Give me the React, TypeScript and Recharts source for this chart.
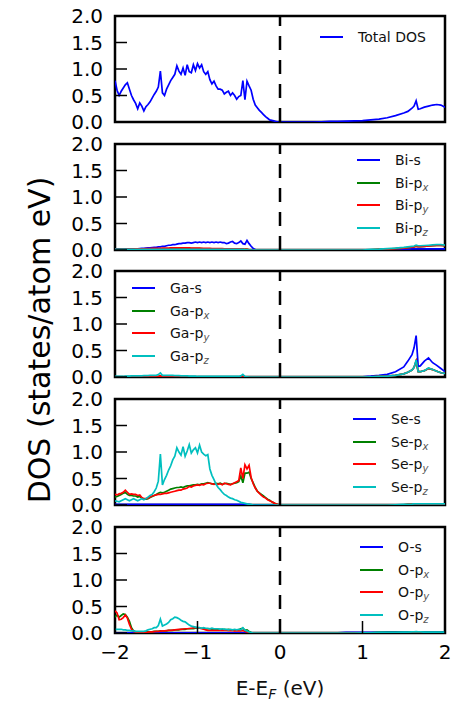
import { LineChart, Line, XAxis, YAxis, ReferenceLine, ReferenceArea } from "recharts";

// energy grid (eV, relative to E_F)
const energies = [
  -2, -1.975, -1.95, -1.925, -1.9, -1.875, -1.85, -1.825, -1.8, -1.775,
  -1.75, -1.725, -1.7, -1.675, -1.65, -1.625, -1.6, -1.575, -1.55, -1.525,
  -1.5, -1.475, -1.45, -1.425, -1.4, -1.375, -1.35, -1.325, -1.3, -1.275,
  -1.25, -1.225, -1.2, -1.175, -1.15, -1.125, -1.1, -1.075, -1.05, -1.025,
  -1, -0.975, -0.95, -0.925, -0.9, -0.875, -0.85, -0.825, -0.8, -0.775,
  -0.75, -0.725, -0.7, -0.675, -0.65, -0.625, -0.6, -0.575, -0.55, -0.525,
  -0.5, -0.475, -0.45, -0.425, -0.4, -0.375, -0.35, -0.325, -0.3, -0.275,
  -0.25, -0.225, -0.2, -0.175, -0.15, -0.125, -0.1, -0.075, -0.05, -0.025,
  0, 0.1, 0.2, 0.3, 0.4, 0.5, 0.6, 0.7, 0.8, 0.9,
  1, 1.1, 1.2, 1.3, 1.4, 1.5,
  1.55, 1.6, 1.625, 1.65, 1.675, 1.7, 1.75, 1.8, 1.85, 1.9, 1.95, 2,
];

const totalDos = [
  0.78, 0.6, 0.5, 0.58, 0.64, 0.7, 0.74, 0.62, 0.5, 0.42,
  0.35, 0.25, 0.36, 0.3, 0.21, 0.29, 0.33, 0.38, 0.45, 0.52,
  0.58, 0.66, 0.96, 0.55, 0.5, 0.62, 0.7, 0.78, 0.84, 0.9,
  1.06, 0.96, 0.9, 1.02, 0.88, 1.08, 0.95, 0.93, 1.08, 0.97,
  1.1, 1.02, 1.08, 0.95, 0.9, 0.95, 0.8, 0.72, 0.77, 0.68,
  0.62, 0.62, 0.6, 0.53, 0.56, 0.58, 0.5, 0.55, 0.5, 0.43,
  0.48, 0.5, 0.78, 0.42, 0.77, 0.68, 0.6, 0.43, 0.32, 0.27,
  0.22, 0.18, 0.14, 0.1, 0.07, 0.04, 0.03, 0.02, 0.01, 0,
  0, 0, 0, 0, 0, 0.005, 0.01, 0.01, 0.015, 0.02,
  0.025, 0.04, 0.055, 0.08, 0.12, 0.17,
  0.2, 0.26, 0.3, 0.4, 0.24, 0.25, 0.28, 0.3, 0.32, 0.33, 0.32, 0.28,
];

const biS = [
  0.02, 0.02, 0.02, 0.015, 0.015, 0.02, 0.02, 0.02, 0.02, 0.02,
  0.02, 0.02, 0.025, 0.03, 0.03, 0.035, 0.04, 0.04, 0.045, 0.05,
  0.05, 0.06, 0.06, 0.07, 0.07, 0.08, 0.09, 0.09, 0.1, 0.1,
  0.11, 0.12, 0.12, 0.13, 0.13, 0.14, 0.14, 0.13, 0.14, 0.15,
  0.14, 0.15, 0.14, 0.15, 0.14, 0.15, 0.14, 0.15, 0.14, 0.15,
  0.14, 0.15, 0.14, 0.14, 0.12, 0.13, 0.15, 0.16, 0.13, 0.12,
  0.14, 0.17, 0.12, 0.11, 0.18, 0.12, 0.07, 0.03, 0.01, 0,
  0, 0, 0, 0, 0, 0, 0, 0, 0, 0,
  0, 0, 0, 0, 0, 0, 0, 0, 0, 0,
  0, 0.005, 0.005, 0.01, 0.01, 0.015,
  0.015, 0.02, 0.02, 0.02, 0.02, 0.02, 0.02, 0.02, 0.02, 0.02, 0.02, 0.02,
];

const biPx = [
  0.01, 0.01, 0.01, 0.01, 0.01, 0.01, 0.01, 0.01, 0.01, 0.01,
  0.01, 0.01, 0.01, 0.015, 0.015, 0.015, 0.015, 0.015, 0.02, 0.02,
  0.02, 0.02, 0.02, 0.02, 0.02, 0.02, 0.02, 0.025, 0.025, 0.025,
  0.025, 0.025, 0.025, 0.025, 0.025, 0.025, 0.025, 0.025, 0.025, 0.025,
  0.025, 0.025, 0.025, 0.02, 0.02, 0.02, 0.02, 0.02, 0.02, 0.02,
  0.02, 0.02, 0.02, 0.02, 0.02, 0.02, 0.02, 0.02, 0.02, 0.02,
  0.02, 0.02, 0.015, 0.01, 0.01, 0.005, 0, 0, 0, 0,
  0, 0, 0, 0, 0, 0, 0, 0, 0, 0,
  0, 0, 0, 0, 0, 0, 0, 0, 0, 0,
  0, 0.005, 0.01, 0.015, 0.025, 0.035,
  0.045, 0.055, 0.06, 0.07, 0.065, 0.065, 0.07, 0.075, 0.08, 0.085, 0.085, 0.08,
];

const biPy = [
  0.01, 0.01, 0.01, 0.01, 0.01, 0.01, 0.015, 0.015, 0.015, 0.015,
  0.02, 0.02, 0.02, 0.02, 0.02, 0.025, 0.025, 0.025, 0.03, 0.03,
  0.03, 0.03, 0.03, 0.035, 0.035, 0.035, 0.035, 0.04, 0.04, 0.04,
  0.04, 0.04, 0.04, 0.04, 0.04, 0.04, 0.04, 0.035, 0.035, 0.035,
  0.035, 0.035, 0.03, 0.03, 0.03, 0.03, 0.03, 0.025, 0.025, 0.025,
  0.025, 0.025, 0.025, 0.02, 0.02, 0.02, 0.02, 0.02, 0.02, 0.02,
  0.02, 0.02, 0.015, 0.01, 0.01, 0.005, 0, 0, 0, 0,
  0, 0, 0, 0, 0, 0, 0, 0, 0, 0,
  0, 0, 0, 0, 0, 0, 0, 0, 0, 0,
  0, 0.005, 0.01, 0.015, 0.025, 0.035,
  0.045, 0.055, 0.06, 0.07, 0.065, 0.065, 0.07, 0.075, 0.08, 0.085, 0.085, 0.08,
];

const biPz = [
  0.01, 0.01, 0.01, 0.01, 0.01, 0.01, 0.01, 0.01, 0.01, 0.01,
  0.01, 0.01, 0.01, 0.01, 0.01, 0.01, 0.01, 0.01, 0.01, 0.01,
  0.01, 0.01, 0.01, 0.01, 0.01, 0.01, 0.01, 0.01, 0.01, 0.01,
  0.01, 0.01, 0.01, 0.01, 0.01, 0.01, 0.01, 0.01, 0.01, 0.01,
  0.01, 0.01, 0.01, 0.01, 0.01, 0.01, 0.01, 0.01, 0.01, 0.01,
  0.01, 0.01, 0.01, 0.01, 0.01, 0.01, 0.01, 0.01, 0.01, 0.01,
  0.01, 0.01, 0.01, 0.005, 0.005, 0, 0, 0, 0, 0,
  0, 0, 0, 0, 0, 0, 0, 0, 0, 0,
  0, 0, 0, 0, 0, 0, 0, 0, 0, 0,
  0, 0.01, 0.015, 0.025, 0.035, 0.05,
  0.06, 0.07, 0.075, 0.09, 0.08, 0.08, 0.085, 0.09, 0.095, 0.1, 0.1, 0.09,
];

const gaS = [
  0.005, 0.005, 0.005, 0.005, 0.005, 0.005, 0.005, 0.005, 0.005, 0.005,
  0.005, 0.005, 0.005, 0.005, 0.005, 0.005, 0.005, 0.005, 0.005, 0.005,
  0.005, 0.005, 0.01, 0.005, 0.005, 0.005, 0.005, 0.005, 0.005, 0.005,
  0.005, 0.005, 0.005, 0.005, 0.005, 0.005, 0.005, 0.005, 0.005, 0.005,
  0.005, 0.005, 0.005, 0.005, 0.005, 0.005, 0.005, 0.005, 0.005, 0.005,
  0.005, 0.005, 0.005, 0.005, 0.005, 0.005, 0.005, 0.005, 0.005, 0.005,
  0.005, 0.005, 0.01, 0.005, 0, 0, 0, 0, 0, 0,
  0, 0, 0, 0, 0, 0, 0, 0, 0, 0,
  0, 0, 0, 0, 0, 0, 0, 0, 0, 0.002,
  0.005, 0.015, 0.03, 0.05, 0.1, 0.19,
  0.3, 0.42, 0.55, 0.78, 0.2, 0.21, 0.3, 0.36, 0.27, 0.22, 0.16, 0.1,
];

const gaPx = [
  0.005, 0.005, 0.005, 0.005, 0.005, 0.005, 0.005, 0.005, 0.005, 0.005,
  0.005, 0.005, 0.005, 0.005, 0.005, 0.005, 0.005, 0.005, 0.005, 0.005,
  0.005, 0.01, 0.02, 0.01, 0.005, 0.005, 0.005, 0.005, 0.005, 0.005,
  0.005, 0.005, 0.005, 0.005, 0.005, 0.005, 0.005, 0.005, 0.005, 0.005,
  0.005, 0.005, 0.005, 0.005, 0.005, 0.005, 0.005, 0.005, 0.005, 0.005,
  0.005, 0.005, 0.005, 0.005, 0.005, 0.005, 0.005, 0.005, 0.005, 0.005,
  0.005, 0.005, 0.01, 0.005, 0, 0, 0, 0, 0, 0,
  0, 0, 0, 0, 0, 0, 0, 0, 0, 0,
  0, 0, 0, 0, 0, 0, 0, 0, 0, 0,
  0, 0.005, 0.01, 0.015, 0.03, 0.06,
  0.09, 0.13, 0.18, 0.3, 0.1, 0.1, 0.12, 0.16, 0.14, 0.11, 0.08, 0.07,
];

const gaPy = [
  0.005, 0.005, 0.005, 0.005, 0.005, 0.005, 0.005, 0.005, 0.005, 0.005,
  0.005, 0.005, 0.005, 0.005, 0.005, 0.005, 0.005, 0.005, 0.005, 0.005,
  0.005, 0.01, 0.02, 0.01, 0.005, 0.005, 0.005, 0.005, 0.005, 0.005,
  0.005, 0.005, 0.005, 0.005, 0.005, 0.005, 0.005, 0.005, 0.005, 0.005,
  0.005, 0.005, 0.005, 0.005, 0.005, 0.005, 0.005, 0.005, 0.005, 0.005,
  0.005, 0.005, 0.005, 0.005, 0.005, 0.005, 0.005, 0.005, 0.005, 0.005,
  0.005, 0.005, 0.01, 0.005, 0, 0, 0, 0, 0, 0,
  0, 0, 0, 0, 0, 0, 0, 0, 0, 0,
  0, 0, 0, 0, 0, 0, 0, 0, 0, 0,
  0, 0.005, 0.01, 0.015, 0.03, 0.06,
  0.09, 0.13, 0.18, 0.3, 0.1, 0.1, 0.12, 0.16, 0.14, 0.11, 0.08, 0.07,
];

const gaPz = [
  0.01, 0.01, 0.01, 0.01, 0.01, 0.015, 0.015, 0.015, 0.02, 0.02,
  0.02, 0.02, 0.02, 0.02, 0.025, 0.025, 0.025, 0.03, 0.03, 0.03,
  0.03, 0.045, 0.075, 0.03, 0.03, 0.03, 0.03, 0.03, 0.03, 0.025,
  0.025, 0.025, 0.02, 0.02, 0.02, 0.02, 0.015, 0.015, 0.015, 0.015,
  0.01, 0.01, 0.01, 0.01, 0.01, 0.01, 0.01, 0.01, 0.01, 0.01,
  0.01, 0.01, 0.01, 0.01, 0.01, 0.01, 0.01, 0.01, 0.01, 0.01,
  0.01, 0.02, 0.05, 0.01, 0.005, 0, 0, 0, 0, 0,
  0, 0, 0, 0, 0, 0, 0, 0, 0, 0,
  0, 0, 0, 0, 0, 0, 0, 0, 0, 0,
  0, 0.005, 0.01, 0.015, 0.03, 0.06,
  0.09, 0.13, 0.18, 0.32, 0.1, 0.1, 0.12, 0.17, 0.14, 0.11, 0.08, 0.07,
];

const seS = [
  0.01, 0.01, 0.01, 0.01, 0.01, 0.01, 0.01, 0.01, 0.01, 0.01,
  0.01, 0.01, 0.01, 0.01, 0.01, 0.01, 0.01, 0.01, 0.01, 0.01,
  0.01, 0.01, 0.01, 0.01, 0.01, 0.01, 0.01, 0.01, 0.01, 0.01,
  0.01, 0.01, 0.01, 0.01, 0.01, 0.01, 0.01, 0.01, 0.01, 0.01,
  0.01, 0.01, 0.01, 0.01, 0.01, 0.01, 0.01, 0.01, 0.01, 0.01,
  0.01, 0.01, 0.01, 0.01, 0.01, 0.01, 0.01, 0.01, 0.01, 0.01,
  0.01, 0.01, 0.01, 0.01, 0.01, 0.01, 0.005, 0.005, 0, 0,
  0, 0, 0, 0, 0, 0, 0, 0, 0, 0,
  0, 0, 0, 0, 0, 0, 0, 0, 0, 0,
  0, 0, 0, 0, 0, 0,
  0, 0, 0, 0, 0, 0, 0, 0, 0, 0, 0, 0,
];

const sePx = [
  0.15, 0.16, 0.18, 0.2, 0.22, 0.24, 0.2, 0.18, 0.18, 0.17,
  0.17, 0.15, 0.16, 0.13, 0.11, 0.11, 0.12, 0.14, 0.16, 0.18,
  0.2, 0.22, 0.24, 0.23, 0.24, 0.26, 0.28, 0.3, 0.31, 0.32,
  0.33, 0.33, 0.34, 0.33, 0.35, 0.36, 0.36, 0.37, 0.38, 0.38,
  0.39, 0.38, 0.4, 0.4, 0.41, 0.42, 0.41, 0.4, 0.4, 0.41,
  0.4, 0.41, 0.39, 0.4, 0.41, 0.4, 0.39, 0.4, 0.41, 0.42,
  0.44, 0.55, 0.42, 0.6, 0.6, 0.62, 0.5, 0.42, 0.33, 0.26,
  0.23, 0.2, 0.17, 0.14, 0.11, 0.09, 0.06, 0.04, 0.02, 0.01,
  0, 0, 0, 0, 0, 0, 0, 0, 0, 0,
  0, 0, 0, 0, 0.005, 0.005,
  0.01, 0.01, 0.01, 0.01, 0.01, 0.01, 0.01, 0.01, 0.01, 0.01, 0.01, 0.01,
];

const sePy = [
  0.2, 0.19, 0.21, 0.22, 0.24, 0.28, 0.24, 0.2, 0.21, 0.2,
  0.2, 0.18, 0.19, 0.14, 0.12, 0.12, 0.13, 0.15, 0.17, 0.18,
  0.19, 0.2, 0.2, 0.21, 0.22, 0.22, 0.23, 0.24, 0.25, 0.26,
  0.27, 0.28, 0.28, 0.3, 0.31, 0.32, 0.35, 0.34, 0.36, 0.37,
  0.38, 0.37, 0.39, 0.38, 0.4, 0.41, 0.41, 0.4, 0.39, 0.4,
  0.39, 0.4, 0.38, 0.41, 0.4, 0.39, 0.38, 0.4, 0.42, 0.44,
  0.46, 0.7, 0.5, 0.76, 0.68, 0.75, 0.52, 0.4, 0.32, 0.26,
  0.22, 0.18, 0.15, 0.13, 0.1, 0.08, 0.06, 0.04, 0.02, 0.01,
  0, 0, 0, 0, 0, 0, 0, 0, 0, 0,
  0, 0, 0, 0, 0.005, 0.005,
  0.01, 0.01, 0.01, 0.01, 0.01, 0.01, 0.01, 0.01, 0.01, 0.01, 0.01, 0.01,
];

const sePz = [
  0.08, 0.07, 0.06, 0.08, 0.1, 0.12, 0.1, 0.08, 0.1, 0.12,
  0.1, 0.08, 0.1, 0.12, 0.1, 0.12, 0.15, 0.18, 0.2, 0.25,
  0.32, 0.45, 0.96, 0.38, 0.48, 0.56, 0.66, 0.74, 0.85, 0.92,
  1.08, 1.0, 0.94, 1.1, 0.92, 1.02, 1.14, 0.98, 1.04, 1.08,
  0.98, 1.13, 1.0, 0.96, 0.93, 0.95, 0.68, 0.56, 0.48, 0.39,
  0.33, 0.29, 0.24, 0.2, 0.18, 0.15, 0.13, 0.12, 0.1, 0.09,
  0.07, 0.05, 0.04, 0.03, 0.02, 0.01, 0.01, 0, 0, 0,
  0, 0, 0, 0, 0, 0, 0, 0, 0, 0,
  0, 0, 0, 0, 0, 0, 0, 0, 0, 0,
  0, 0, 0, 0, 0.005, 0.01,
  0.01, 0.015, 0.02, 0.02, 0.02, 0.02, 0.02, 0.02, 0.02, 0.02, 0.02, 0.02,
];

const oS = [
  0.005, 0.005, 0.005, 0.005, 0.005, 0.005, 0.005, 0.005, 0.005, 0.005,
  0.005, 0.005, 0.005, 0.005, 0.005, 0.005, 0.005, 0.005, 0.005, 0.005,
  0.005, 0.005, 0.005, 0.005, 0.005, 0.005, 0.005, 0.005, 0.005, 0.005,
  0.005, 0.005, 0.005, 0.005, 0.005, 0.005, 0.005, 0.005, 0.005, 0.005,
  0.005, 0.005, 0.005, 0.005, 0.005, 0.005, 0.005, 0.005, 0.005, 0.005,
  0.005, 0.005, 0.005, 0.005, 0.005, 0.005, 0.005, 0.005, 0.005, 0.005,
  0.005, 0.005, 0.005, 0.005, 0, 0, 0, 0, 0, 0,
  0, 0, 0, 0, 0, 0, 0, 0, 0, 0,
  0, 0, 0, 0, 0, 0, 0.005, 0.005, 0.01, 0.01,
  0.01, 0.01, 0.01, 0.015, 0.015, 0.015,
  0.015, 0.015, 0.015, 0.015, 0.015, 0.015, 0.015, 0.015, 0.015, 0.015, 0.015, 0.015,
];

const oPx = [
  0.3, 0.34, 0.3, 0.33, 0.36, 0.35, 0.3, 0.22, 0.1, 0.04,
  0.02, 0.02, 0.02, 0.02, 0.02, 0.02, 0.02, 0.02, 0.02, 0.03,
  0.03, 0.03, 0.04, 0.04, 0.04, 0.04, 0.05, 0.05, 0.05, 0.06,
  0.06, 0.06, 0.07, 0.07, 0.07, 0.08, 0.08, 0.08, 0.08, 0.09,
  0.09, 0.09, 0.09, 0.08, 0.08, 0.08, 0.08, 0.07, 0.07, 0.07,
  0.07, 0.07, 0.06, 0.07, 0.06, 0.07, 0.06, 0.06, 0.05, 0.06,
  0.06, 0.08, 0.09, 0.05, 0.06, 0.03, 0.01, 0, 0, 0,
  0, 0, 0, 0, 0, 0, 0, 0, 0, 0,
  0, 0, 0, 0, 0, 0, 0, 0, 0.005, 0.005,
  0.005, 0.005, 0.01, 0.01, 0.01, 0.01,
  0.01, 0.015, 0.015, 0.02, 0.015, 0.015, 0.01, 0.01, 0.01, 0.01, 0.01, 0.01,
];

const oPy = [
  0.42, 0.38, 0.25, 0.26, 0.29, 0.34, 0.28, 0.16, 0.07, 0.03,
  0.02, 0.015, 0.01, 0.01, 0.01, 0.01, 0.015, 0.02, 0.02, 0.025,
  0.03, 0.03, 0.035, 0.04, 0.04, 0.045, 0.05, 0.05, 0.055, 0.06,
  0.065, 0.07, 0.07, 0.075, 0.08, 0.08, 0.085, 0.09, 0.095, 0.1,
  0.1, 0.09, 0.08, 0.07, 0.06, 0.05, 0.05, 0.05, 0.05, 0.05,
  0.05, 0.05, 0.05, 0.05, 0.05, 0.045, 0.045, 0.045, 0.04, 0.04,
  0.04, 0.04, 0.05, 0.03, 0.02, 0.01, 0, 0, 0, 0,
  0, 0, 0, 0, 0, 0, 0, 0, 0, 0,
  0, 0, 0, 0, 0, 0, 0, 0, 0, 0,
  0, 0, 0, 0, 0, 0,
  0, 0, 0, 0, 0, 0, 0, 0, 0, 0, 0, 0,
];

const oPz = [
  0.07, 0.07, 0.07, 0.07, 0.06, 0.06, 0.05, 0.05, 0.04, 0.04,
  0.03, 0.03, 0.03, 0.03, 0.03, 0.04, 0.06, 0.07, 0.08, 0.1,
  0.1, 0.14, 0.26, 0.13, 0.15, 0.17, 0.2, 0.25, 0.27, 0.3,
  0.29, 0.27, 0.24, 0.22, 0.21, 0.18, 0.15, 0.13, 0.12, 0.11,
  0.1, 0.1, 0.09, 0.1, 0.09, 0.09, 0.08, 0.09, 0.08, 0.08,
  0.08, 0.07, 0.08, 0.07, 0.07, 0.06, 0.07, 0.06, 0.07, 0.06,
  0.07, 0.06, 0.1, 0.05, 0.04, 0.02, 0.01, 0, 0, 0,
  0, 0, 0, 0, 0, 0, 0, 0, 0, 0,
  0, 0, 0, 0, 0, 0, 0, 0, 0, 0,
  0.005, 0.005, 0.01, 0.01, 0.01, 0.015,
  0.015, 0.02, 0.02, 0.025, 0.02, 0.02, 0.015, 0.015, 0.015, 0.015, 0.015, 0.015,
];

const xTicks = [-2, -1, 0, 1, 2];
const yTicks = [0, 0.5, 1, 1.5, 2];

const rows = energies.map((e, i) => ({
  e,
  total: totalDos[i],
  biS: biS[i], biPx: biPx[i], biPy: biPy[i], biPz: biPz[i],
  gaS: gaS[i], gaPx: gaPx[i], gaPy: gaPy[i], gaPz: gaPz[i],
  seS: seS[i], sePx: sePx[i], sePy: sePy[i], sePz: sePz[i],
  oS: oS[i], oPx: oPx[i], oPy: oPy[i], oPz: oPz[i],
}));

const BLUE = "#0000ff";
const GREEN = "#008000";
const RED = "#ff0000";
const CYAN = "#00bfbf";
const FONT = "'DejaVu Sans', sans-serif";

type Entry = { key: string; name: string; sub?: string; color: string };

const orbitals = (el: string, prefix: string): Entry[] => [
  { key: `${prefix}S`, name: `${el}-s`, color: BLUE },
  { key: `${prefix}Px`, name: `${el}-p`, sub: "x", color: GREEN },
  { key: `${prefix}Py`, name: `${el}-p`, sub: "y", color: RED },
  { key: `${prefix}Pz`, name: `${el}-p`, sub: "z", color: CYAN },
];

const panels = [
  { top: 16, legendLeft: 320, legendTop: 37, entries: [{ key: "total", name: "Total DOS", color: BLUE }] as Entry[] },
  { top: 144, legendLeft: 357, legendTop: 160, entries: orbitals("Bi", "bi") },
  { top: 271, legendLeft: 132, legendTop: 288, entries: orbitals("Ga", "ga") },
  { top: 399, legendLeft: 353, legendTop: 419, entries: orbitals("Se", "se") },
  { top: 527, legendLeft: 360, legendTop: 547, entries: orbitals("O", "o") },
];

const PLOT_H = 106;
const PAD = 12;
const ROW_H = 22.7;

const fmtX = (v: number) => (v < 0 ? `\u2212${-v}` : `${v}`);

function Panel({ p, last }: { p: (typeof panels)[number]; last: boolean }) {
  const xHeight = last ? 40 : PAD;
  return (
    <div style={{ position: "absolute", left: 0, top: p.top - PAD }}>
      <LineChart
        width={453}
        height={PAD + PLOT_H + xHeight}
        data={rows}
        margin={{ top: PAD, right: 8, bottom: 0, left: 0 }}
      >
        <XAxis
          dataKey="e"
          type="number"
          domain={[-2, 2]}
          ticks={xTicks}
          interval={0}
          allowDataOverflow
          height={xHeight}
          axisLine={false}
          tickSize={-12}
          tickMargin={24}
          tickLine={{ stroke: "#000", strokeWidth: 1.5 }}
          tick={last ? { fontSize: 20, fontFamily: FONT, fill: "#000" } : false}
          tickFormatter={fmtX}
        />
        <YAxis
          type="number"
          domain={[0, 2]}
          ticks={yTicks}
          interval={0}
          allowDataOverflow
          width={115}
          axisLine={false}
          tickSize={-12}
          tickMargin={24}
          tickLine={{ stroke: "#000", strokeWidth: 1.5 }}
          tick={{ fontSize: 20, fontFamily: FONT, fill: "#000" }}
          tickFormatter={(v: number) => v.toFixed(1)}
        />
        {p.entries.map((s) => (
          <Line
            key={s.key}
            dataKey={s.key}
            type="linear"
            stroke={s.color}
            strokeWidth={1.7}
            dot={false}
            activeDot={false}
            isAnimationActive={false}
          />
        ))}
        <ReferenceLine x={0} stroke="#000" strokeWidth={2.5} strokeDasharray="14 10" />
        <ReferenceArea x1={-2} x2={2} y1={0} y2={2} fill="none" fillOpacity={0} stroke="#000" strokeWidth={2.5} />
      </LineChart>
    </div>
  );
}

function PanelLegend({ p }: { p: (typeof panels)[number] }) {
  return (
    <div
      style={{
        position: "absolute",
        left: p.legendLeft,
        top: p.legendTop - ROW_H / 2,
        fontFamily: FONT,
        fontSize: 14,
        color: "#111",
      }}
    >
      {p.entries.map((s) => (
        <div key={s.key} style={{ display: "flex", alignItems: "center", height: ROW_H, whiteSpace: "nowrap" }}>
          <span style={{ display: "inline-block", width: 23, borderTop: `2px solid ${s.color}`, marginRight: 15 }} />
          <span>
            {s.name}
            {s.sub && (
              <span style={{ fontStyle: "italic", fontSize: 10, position: "relative", top: 3, color: "#555" }}>{s.sub}</span>
            )}
          </span>
        </div>
      ))}
    </div>
  );
}

export default function App() {
  return (
    <div style={{ position: "absolute", left: 0, top: 0, width: 453, height: 703, background: "#fff" }}>
      {panels.map((p, i) => (
        <Panel key={p.top} p={p} last={i === panels.length - 1} />
      ))}
      {panels.map((p) => (
        <PanelLegend key={`lg-${p.top}`} p={p} />
      ))}
      <svg width={60} height={703} style={{ position: "absolute", left: 0, top: 0 }}>
        <text
          transform="rotate(-90)"
          x={-340}
          y={50}
          textAnchor="middle"
          fontFamily={FONT}
          fontSize={30}
          fill="#000"
        >
          DOS (states/atom eV)
        </text>
      </svg>
      <div
        style={{
          position: "absolute",
          left: 180,
          top: 676,
          width: 200,
          textAlign: "center",
          fontFamily: FONT,
          fontSize: 20,
          color: "#111",
        }}
      >
        E-E<span style={{ fontStyle: "italic", fontSize: 14, position: "relative", top: 4 }}>F</span> (eV)
      </div>
    </div>
  );
}
